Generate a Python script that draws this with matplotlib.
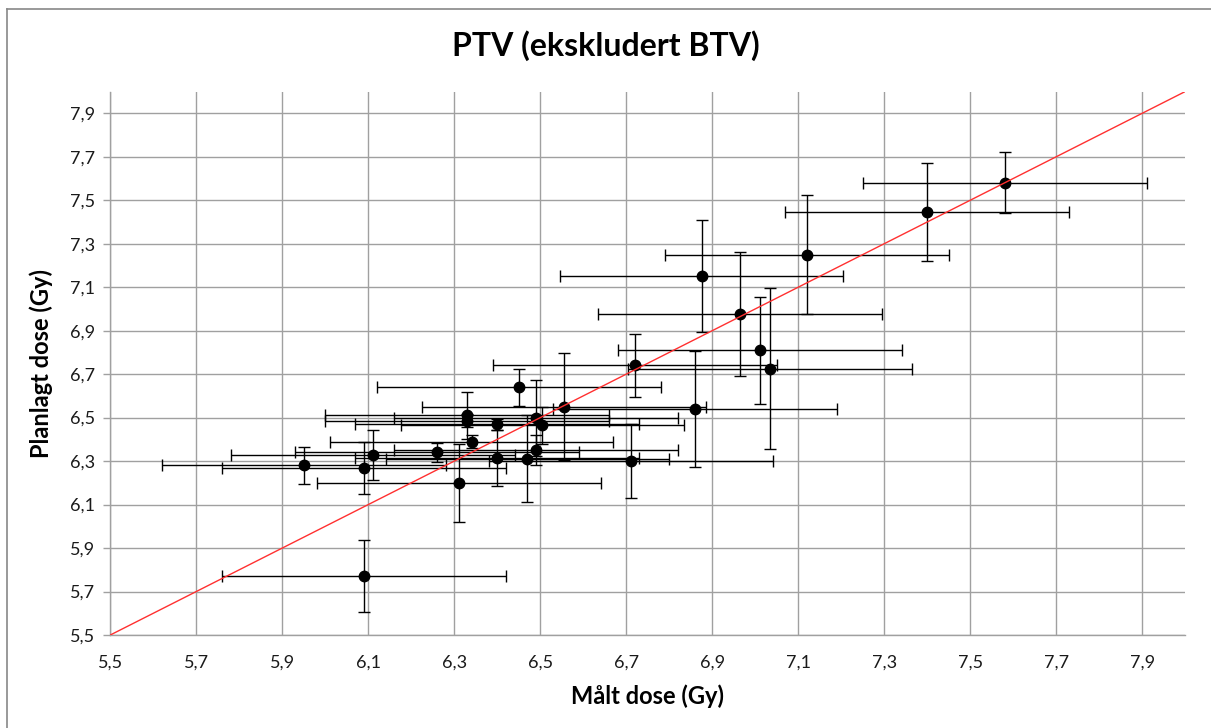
import matplotlib
matplotlib.use('Agg')
import matplotlib.pyplot as plt
from matplotlib.lines import Line2D
from matplotlib.ticker import FuncFormatter
import numpy as np

plt.rcParams['font.family'] = ['Liberation Sans Narrow', 'Lato', 'DejaVu Sans']

# Measured vs planned dose per field (Gy)
maalt = [6.09, 5.95, 6.09, 6.11, 6.26, 6.31, 6.33, 6.33, 6.34, 6.40,
         6.40, 6.45, 6.47, 6.49, 6.49, 6.505, 6.555, 6.71, 6.72, 6.86,
         6.875, 6.965, 7.01, 7.035, 7.12, 7.40, 7.58]
planlagt = [5.77, 6.28, 6.27, 6.33, 6.34, 6.20, 6.51, 6.485, 6.39, 6.47,
            6.315, 6.64, 6.31, 6.35, 6.50, 6.465, 6.55, 6.30, 6.74, 6.54,
            7.15, 6.975, 6.81, 6.725, 7.25, 7.445, 7.58]
planlagt_feil = [0.165, 0.085, 0.12, 0.115, 0.045, 0.18, 0.11, 0.03, 0.03, 0.025,
                 0.13, 0.085, 0.2, 0.07, 0.175, 0.085, 0.245, 0.17, 0.143, 0.267,
                 0.258, 0.285, 0.247, 0.37, 0.272, 0.225, 0.14]
maalt_feil = 0.33

ident = [5.5, 8.0]
ticks = [5.5, 5.7, 5.9, 6.1, 6.3, 6.5, 6.7, 6.9, 7.1, 7.3, 7.5, 7.7, 7.9]

fig = plt.figure(figsize=(12.11, 7.28), dpi=100)
ax = fig.add_axes([110.3 / 1211, 93 / 728, 1075 / 1211, 543.5 / 728])

ax.errorbar(maalt, planlagt, xerr=maalt_feil, yerr=planlagt_feil, fmt='none',
            ecolor='black', elinewidth=1, capsize=4, capthick=1, zorder=2)
ax.plot(maalt, planlagt, 'o', color='black', markersize=7.5, zorder=3)
ax.plot(ident, ident, color='#ff3030', linewidth=1, zorder=4)

ax.set_xlim(5.5, 8.0)
ax.set_ylim(5.5, 8.0)
ax.set_xticks(ticks)
ax.set_yticks(ticks)
komma = FuncFormatter(lambda v, p: f'{v:.1f}'.replace('.', ','))
ax.xaxis.set_major_formatter(komma)
ax.yaxis.set_major_formatter(komma)
ax.tick_params(axis='both', labelsize=13, colors='#a0a0a0', labelcolor='#1a1a1a')
ax.tick_params(axis='x', length=0, pad=14)
ax.tick_params(axis='y', length=5, width=1, pad=6)

ax.grid(True, color='#a0a0a0', linewidth=1)
ax.set_axisbelow(True)
for side in ['top', 'right']:
    ax.spines[side].set_visible(False)
for side in ['left', 'bottom']:
    ax.spines[side].set_color('#a0a0a0')
    ax.spines[side].set_linewidth(1)

fig.text(0.5, 1 - 46 / 728, 'PTV (ekskludert BTV)', ha='center', va='center',
         fontsize=23, fontweight='bold', family=['Lato', 'DejaVu Sans'])
ax.set_xlabel('Målt dose (Gy)', fontsize=17, fontweight='bold',
              family=['Lato', 'DejaVu Sans'], labelpad=10)
ax.set_ylabel('Planlagt dose (Gy)', fontsize=17, fontweight='bold',
              family=['Lato', 'DejaVu Sans'], labelpad=12)

# chart area frame
fig.add_artist(Line2D([7 / 1211, 7 / 1211], [0, 1 - 9 / 728], color='#888888', linewidth=1.2))
fig.add_artist(Line2D([7 / 1211, 1], [1 - 9 / 728, 1 - 9 / 728], color='#888888', linewidth=1.2))

fig.savefig('out.png', dpi=100, facecolor='white')
